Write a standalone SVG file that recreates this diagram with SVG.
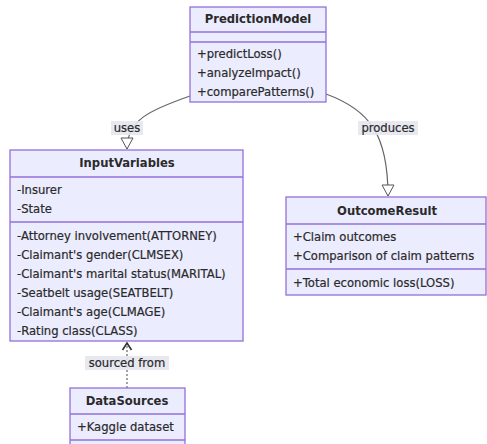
<svg xmlns="http://www.w3.org/2000/svg" width="487" height="444" viewBox="0 0 487 444">
<style>
.box{fill:#ECECFF;stroke:#9370DB;stroke-width:1.3}
.sep{stroke:#9370DB;stroke-width:1.3}
.t{font-family:"DejaVu Sans",Verdana,sans-serif;font-size:11.6px;fill:#2a2a2a;stroke:#2a2a2a;stroke-width:0.2;dominant-baseline:central}
.h{font-weight:bold;text-anchor:middle;stroke-width:0}
.edge{fill:none;stroke:#666;stroke-width:1.2}
.lblbg{fill:#E6E6EE;opacity:0.9}
.lbl{font-family:"DejaVu Sans",Verdana,sans-serif;font-size:11.6px;fill:#2a2a2a;stroke:#2a2a2a;stroke-width:0.2;text-anchor:middle;dominant-baseline:central}
</style>
<defs>
<marker id="tri" markerWidth="14" markerHeight="14" refX="12" refY="7" orient="auto" markerUnits="userSpaceOnUse">
<path d="M1,1 L12,7 L1,13 Z" fill="#fff" stroke="#555" stroke-width="1"/>
</marker>
<marker id="open" markerWidth="12" markerHeight="12" refX="10" refY="6" orient="auto" markerUnits="userSpaceOnUse">
<path d="M3,1.5 L10,6 L3,10.5" fill="none" stroke="#333" stroke-width="1.6"/>
</marker>
</defs>
<g id="connectors">
<path class="edge" d="M190,96 C150,110 127,120 127,149" marker-end="url(#tri)"/>
<path class="edge" d="M326,94 C370,110 388,135 388,196" marker-end="url(#tri)"/>
<path class="edge" d="M127,388 L127,343" stroke-dasharray="2,2" marker-end="url(#open)"/>
<rect class="lblbg" x="111" y="121" width="32" height="14"/>
<text class="lbl" x="127" y="128">uses</text>
<rect class="lblbg" x="358" y="121" width="60" height="14"/>
<text class="lbl" x="388" y="128">produces</text>
<rect class="lblbg" x="85" y="356" width="84" height="14"/>
<text class="lbl" x="127" y="363">sourced from</text>
</g>
<g id="PredictionModel">
<rect class="box" x="190" y="7" width="136" height="95"/>
<line class="sep" x1="190" y1="32" x2="326" y2="32"/>
<line class="sep" x1="190" y1="42" x2="326" y2="42"/>
<text class="t h" x="258" y="19">PredictionModel</text>
<text class="t" x="197" y="54">+predictLoss()</text>
<text class="t" x="197" y="73">+analyzeImpact()</text>
<text class="t" x="197" y="92">+comparePatterns()</text>
</g>
<g id="InputVariables">
<rect class="box" x="10" y="150" width="233" height="191"/>
<line class="sep" x1="10" y1="177" x2="243" y2="177"/>
<line class="sep" x1="10" y1="222" x2="243" y2="222"/>
<text class="t h" x="127" y="163">InputVariables</text>
<text class="t" x="17" y="190">-Insurer</text>
<text class="t" x="17" y="209">-State</text>
<text class="t" x="17" y="236">-Attorney involvement(ATTORNEY)</text>
<text class="t" x="17" y="255">-Claimant's gender(CLMSEX)</text>
<text class="t" x="17" y="274">-Claimant's marital status(MARITAL)</text>
<text class="t" x="17" y="293">-Seatbelt usage(SEATBELT)</text>
<text class="t" x="17" y="312">-Claimant's age(CLMAGE)</text>
<text class="t" x="17" y="331">-Rating class(CLASS)</text>
</g>
<g id="OutcomeResult">
<rect class="box" x="286" y="197" width="200" height="98"/>
<line class="sep" x1="286" y1="224" x2="486" y2="224"/>
<line class="sep" x1="286" y1="269" x2="486" y2="269"/>
<text class="t h" x="387" y="211">OutcomeResult</text>
<text class="t" x="293" y="237">+Claim outcomes</text>
<text class="t" x="293" y="256">+Comparison of claim patterns</text>
<text class="t" x="293" y="283">+Total economic loss(LOSS)</text>
</g>
<g id="DataSources">
<rect class="box" x="70" y="388" width="115" height="70"/>
<line class="sep" x1="70" y1="414" x2="185" y2="414"/>
<line class="sep" x1="70" y1="440" x2="185" y2="440"/>
<text class="t h" x="127" y="401">DataSources</text>
<text class="t" x="77" y="427">+Kaggle dataset</text>
</g>
</svg>
